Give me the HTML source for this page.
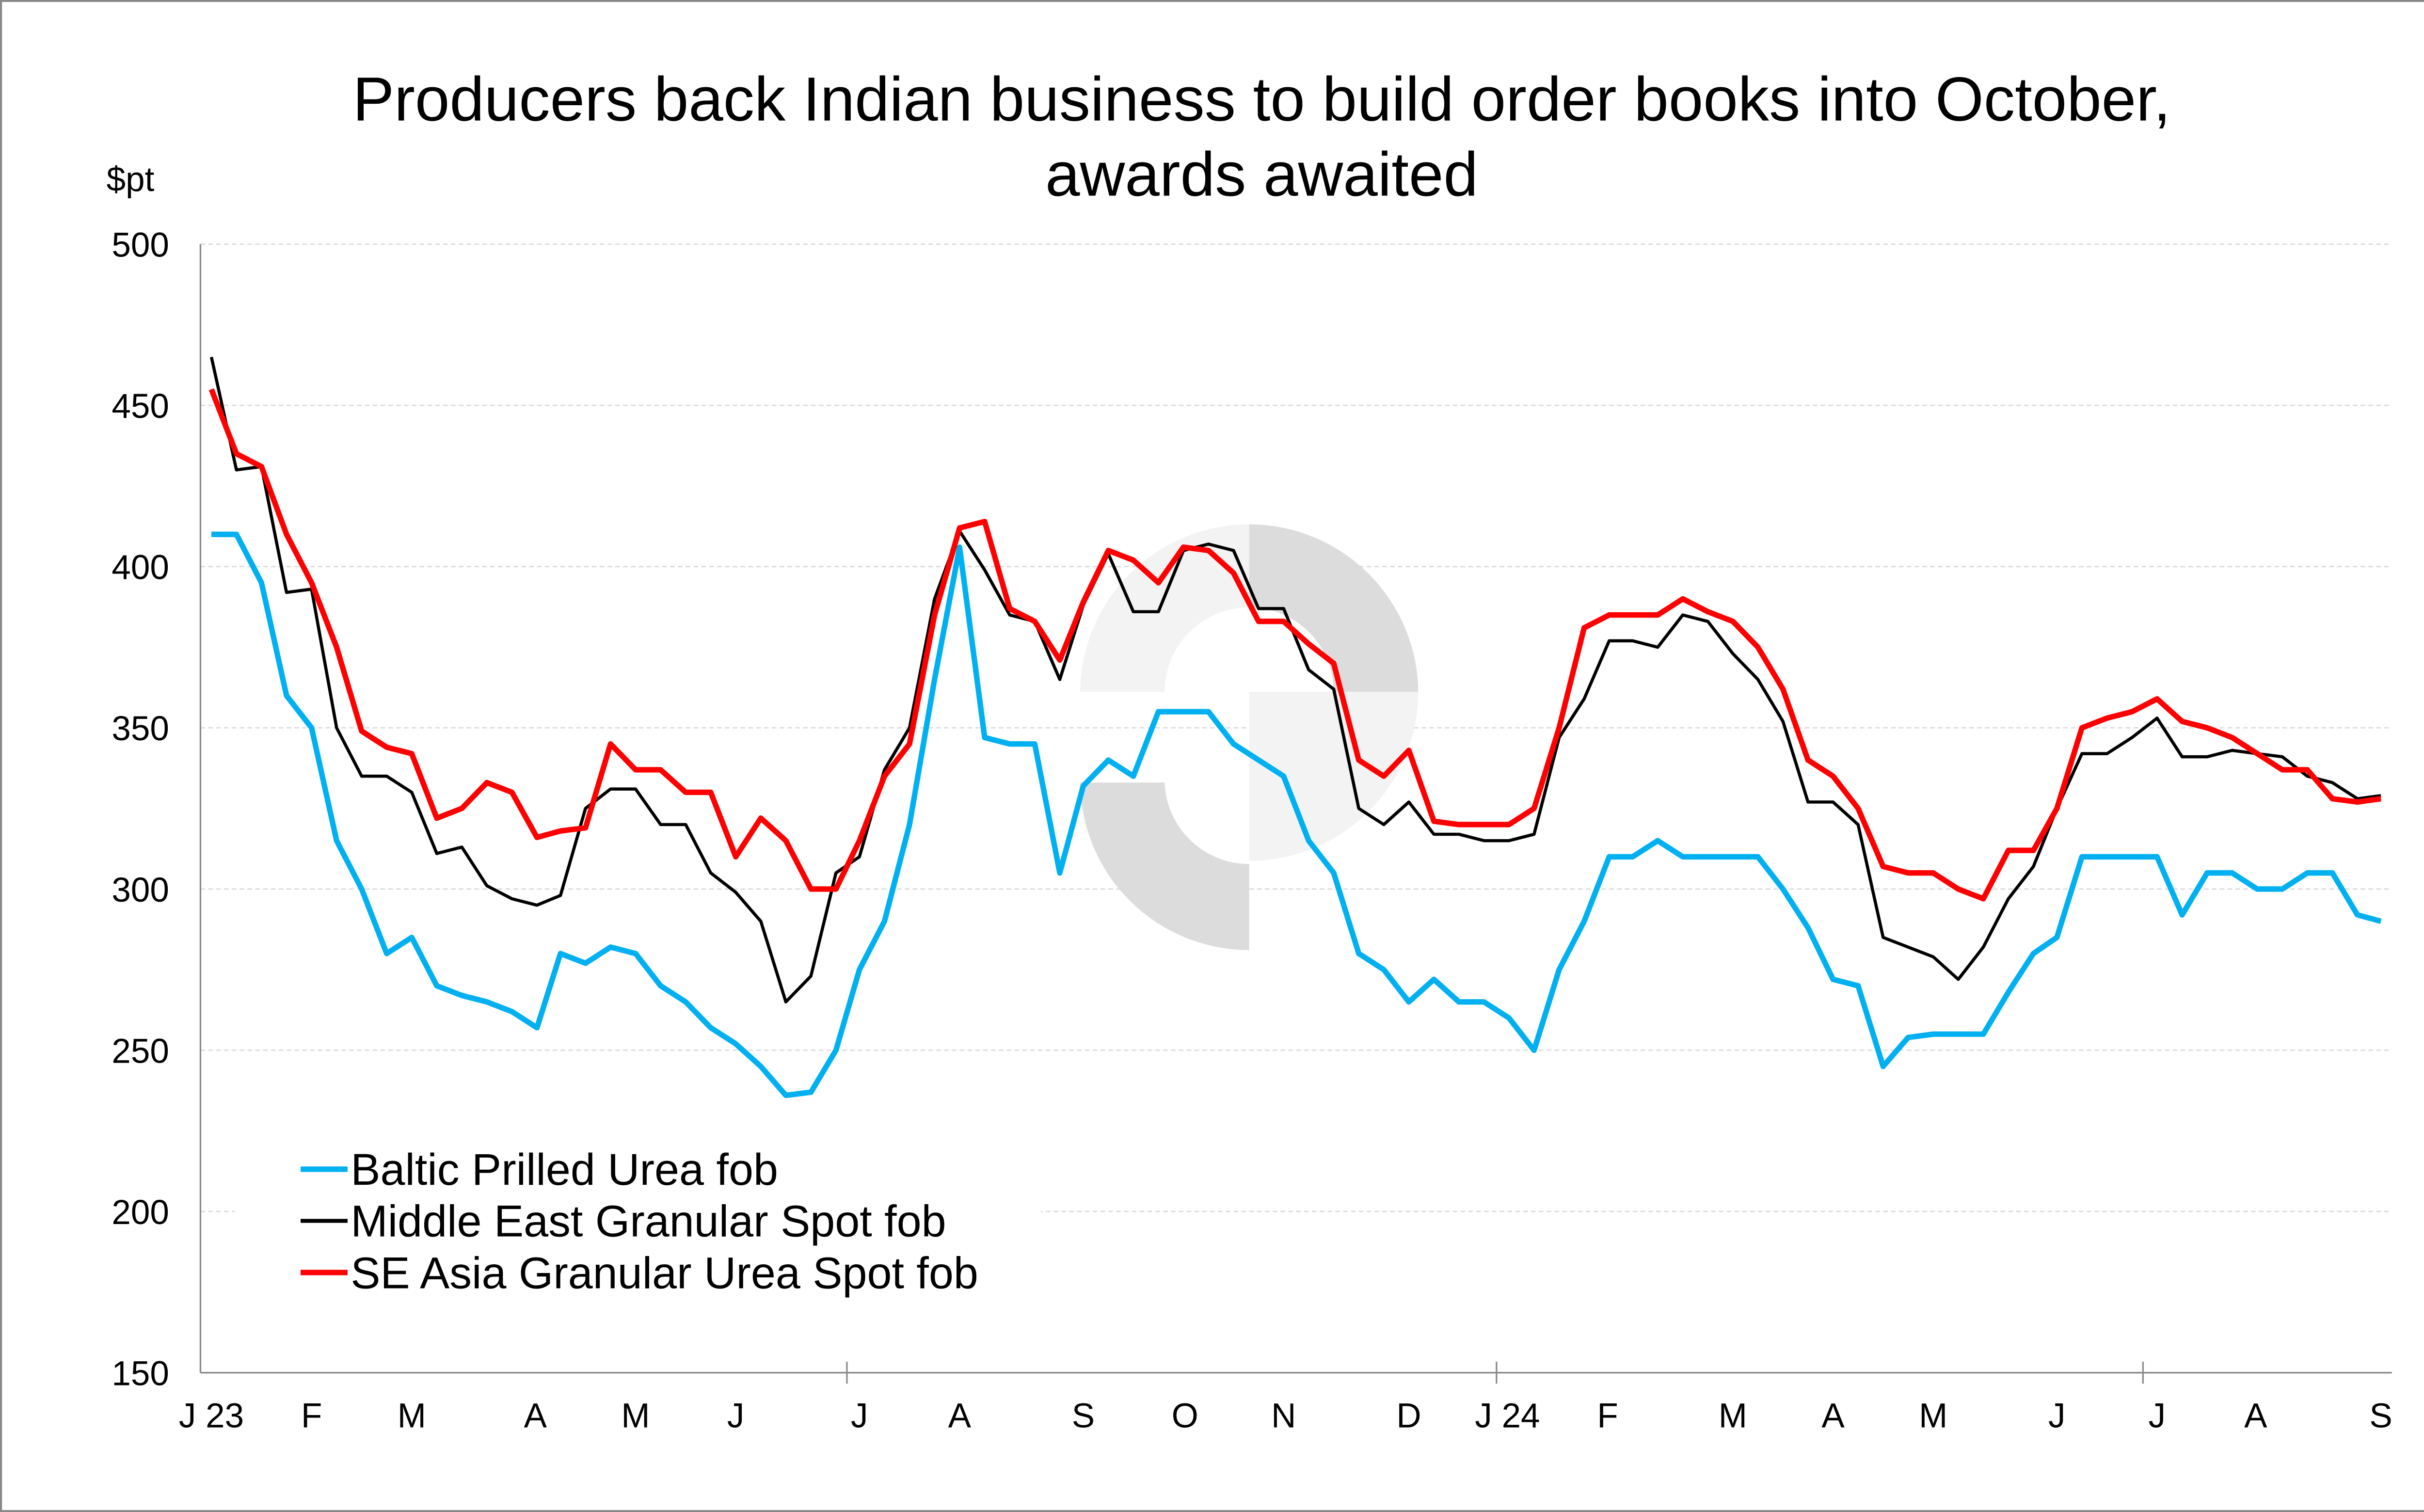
<!DOCTYPE html>
<html><head><meta charset="utf-8"><style>
html,body{margin:0;padding:0;background:#fff}
svg{display:block}
text{font-family:"Liberation Sans",Arial,sans-serif}
</style></head><body>
<svg id="s" width="5063" height="3119" viewBox="0 0 1568 966" xmlns="http://www.w3.org/2000/svg">
<rect x="0.5" y="0.5" width="1567" height="965" fill="#fff" stroke="#888" stroke-width="1.5"/>
<text x="806" y="77" font-size="39.8" text-anchor="middle">Producers back Indian business to build order books into October,</text>
<text x="806" y="125" font-size="39.8" text-anchor="middle">awards awaited</text>
<text x="68" y="122" font-size="22">$pt</text>
<g id="grid" stroke="#d9d9d9" stroke-width="0.8" stroke-dasharray="3,2"></g>
<g id="ylab" font-size="22" text-anchor="end"></g>
<g opacity="1">
<path d="M798 335 A108 108 0 0 1 906 442 L852 442 A54 54 0 0 0 798 388 Z" fill="#dcdcdc"/>
<path d="M690 442 A108 108 0 0 1 798 335 L798 388 A54 54 0 0 0 744 442 Z" fill="#f3f3f3"/>
<path d="M690 500 A108 108 0 0 0 798 607 L798 552 A54 54 0 0 1 744 500 Z" fill="#dcdcdc"/>
<path d="M798 442 L906 442 A108 108 0 0 1 798 550 Z" fill="#f3f3f3"/>
</g>
<line x1="128" y1="156" x2="128" y2="877" stroke="#888" stroke-width="1"/>
<line x1="128" y1="877" x2="1528" y2="877" stroke="#888" stroke-width="1"/>
<g stroke="#888"><line x1="541" y1="870" x2="541" y2="884"/><line x1="956" y1="870" x2="956" y2="884"/><line x1="1369" y1="870" x2="1369" y2="884"/></g>
<g font-size="22" text-anchor="middle">
<text x="135" y="912">J 23</text><text x="199" y="912">F</text><text x="263" y="912">M</text><text x="342" y="912">A</text><text x="406" y="912">M</text><text x="470" y="912">J</text><text x="549" y="912">J</text><text x="613" y="912">A</text><text x="692" y="912">S</text><text x="757" y="912">O</text><text x="820" y="912">N</text><text x="900" y="912">D</text><text x="963" y="912">J 24</text><text x="1027" y="912">F</text><text x="1107" y="912">M</text><text x="1171" y="912">A</text><text x="1235" y="912">M</text><text x="1314" y="912">J</text><text x="1378" y="912">J</text><text x="1441" y="912">A</text><text x="1521" y="912">S</text>
</g>
<g id="series" fill="none" stroke-linejoin="round"></g>
<rect x="150" y="728" width="515" height="100" fill="#fff"/>
<line x1="192" y1="747" x2="222" y2="747" stroke="#00b0f0" stroke-width="3.5"/>
<line x1="192" y1="780" x2="222" y2="780" stroke="#000" stroke-width="2.5"/>
<line x1="192" y1="813" x2="222" y2="813" stroke="#f00" stroke-width="3.5"/>
<g font-size="28.4"><text x="224" y="757">Baltic Prilled Urea fob</text><text x="224" y="790">Middle East Granular Spot fob</text><text x="224" y="823">SE Asia Granular Urea Spot fob</text></g>
</svg>
<script>
var y=v=>156+(500-v)*2.06;
var g=document.getElementById('grid'),yl=document.getElementById('ylab');
for(var v=150;v<=500;v+=50){if(v>150)g.innerHTML+='<line x1="128" y1="'+y(v)+'" x2="1528" y2="'+y(v)+'"/>';yl.innerHTML+='<text x="108" y="'+(y(v)+8)+'">'+v+'</text>';}
var xs=[135,151,167,183,199,215,231,247,263,279,295,311,327,343,358,374,390,406,422,438,454,470,486,502,518,534,549,565,581,597,613,629,645,661,677,692,708,724,740,756,772,788,804,820,836,852,868,884,900,916,932,948,964,980,996,1012,1028,1043,1059,1075,1091,1107,1123,1139,1155,1171,1187,1203,1219,1235,1251,1267,1283,1299,1314,1330,1346,1362,1378,1394,1410,1426,1442,1458,1474,1490,1506,1521];
var B=[410,410,395,360,350,315,300,280,285,270,267,265,262,257,280,277,282,280,270,265,257,252,245,236,237,250,275,290,320,365,406,347,345,345,305,332,340,335,355,355,355,345,340,335,315,305,280,275,265,272,265,265,260,250,275,290,310,310,315,310,310,310,310,300,288,272,270,245,254,255,255,255,268,280,285,310,310,310,310,292,305,305,300,300,305,305,292,290];
var M=[465,430,431,392,393,350,335,335,330,311,313,301,297,295,298,325,331,331,320,320,305,299,290,265,273,305,310,337,350,390,411,399,385,383,365,388,404,386,386,405,407,405,387,387,368,362,325,320,327,317,317,315,315,317,347,359,377,377,375,385,383,373,365,352,327,327,320,285,282,279,272,282,297,307,325,342,342,347,353,341,341,343,342,341,335,333,328,329];
var S=[455,435,431,410,395,375,349,344,342,322,325,333,330,316,318,319,345,337,337,330,330,310,322,315,300,300,315,335,345,385,412,414,387,383,371,389,405,402,395,406,405,398,383,383,376,370,340,335,343,321,320,320,320,325,350,381,385,385,385,390,386,383,375,362,340,335,325,307,305,305,300,297,312,312,325,350,353,355,359,352,350,347,342,337,337,328,327,328];
function pl(d,c,w){return '<polyline stroke="'+c+'" stroke-width="'+w+'" points="'+d.map((v,i)=>xs[i]+','+y(v).toFixed(1)).join(' ')+'"/>';}
document.getElementById('series').innerHTML=pl(B,'#00b0f0',3.5)+pl(M,'#000',2)+pl(S,'#f00',3.5);
</script>
</body></html>
